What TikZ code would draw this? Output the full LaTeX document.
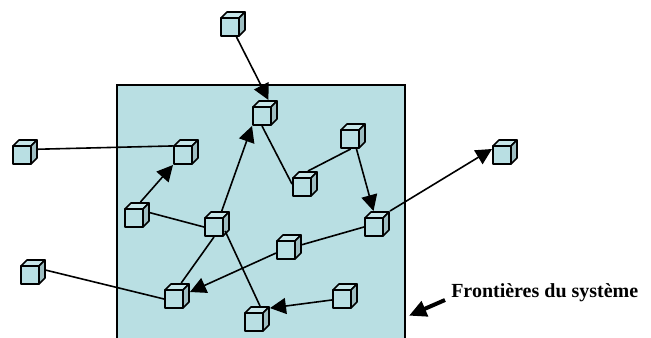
\documentclass[tikz,border=0pt]{standalone}
\usepackage{fontspec}
\setmainfont{Liberation Serif}
\usetikzlibrary{arrows.meta}

\definecolor{sysblue}{HTML}{B9DFE3}
\definecolor{sidegrey}{HTML}{9DBDC1}
\definecolor{topblue}{HTML}{C7E6E9}

\tikzset{
    cubebox/.style={minimum size=19.5pt, inner sep=0pt, outer sep=0pt,
        path picture={
            \coordinate (nw) at (path picture bounding box.north west);
            \draw[cubeline, fill=topblue] (nw) ++(1,7) -- ++(6,-6) -- ++(18,0) -- ++(-6,6) -- cycle;
            \draw[cubeline, fill=sidegrey] (nw) ++(19,7) -- ++(6,-6) -- ++(0,18) -- ++(-6,6) -- cycle;
            \draw[cubeline, fill=sysblue] (nw) ++(1,7) rectangle ++(18,18);
        }},
    cubeline/.style={line width=1.2pt, line join=round, black},
    link/.style={line width=1.2pt},
    linkarrow/.style={link, -{Triangle[length=12pt,width=12pt]}}
}

\begin{document}
\begin{tikzpicture}[x=0.75pt, y=-0.75pt]
    \useasboundingbox (0,0) rectangle (651,338);

    % System area
    \fill[sysblue] (117,85) rectangle (405,338);
    \draw[line width=1.2pt] (117,338) -- (117,85) -- (405,85) -- (405,338);

    % Cubes
    \foreach \name/\x/\y in {top/233/24, upper/265/113, inb/186/152, out/25/152,
        right/353/136, mid/305/184, lefty/137/215, hub/217/224, gate/377/224,
        far/505/152, cen/289/247, low/33/272, corner/177/296, lowr/345/296, base/257/319} {
        \node[cubebox] (\name) at (\x,\y) {};
    }

    % Links without arrow
    \draw[link] (out.12) -- (inb.155);
    \draw[link] (upper.257) -- (mid.west);
    \draw[link] (mid.77) -- (right.260);
    \draw[link] (lefty.10) -- (hub.193);
    \draw[link] (hub.257) -- (corner.72);
    \draw[link, shorten <=-5pt] (hub.310) -- (base.77);
    \draw[link] (low.8) -- (corner.193);
    \draw[link] (cen.10) -- (gate.193);

    % Links with arrow
    \draw[linkarrow] (top.285) -- (upper.75);
    \draw[linkarrow] (hub.70) -- (upper.south west);
    \draw[linkarrow] (lefty.75) -- (inb.south west);
    \draw[linkarrow] (right.285) -- (gate.105);
    \draw[linkarrow] (gate.45) -- (far.167);
    \draw[linkarrow] (cen.205) -- (corner.17);
    \draw[linkarrow] (lowr.197) -- (base.40);

    % Boundary label
    \node[anchor=west, inner sep=0pt, font=\fontsize{15}{17}\selectfont\bfseries] (border) at (451,293) {Frontières du système};
    \coordinate (borderstart) at (445,300);
    \coordinate (bordertip) at (406,317);
    \draw[line width=3pt, -{Triangle[length=13pt,width=12pt,sep=2.5pt]}] (borderstart) -- (bordertip);
\end{tikzpicture}
\end{document}
